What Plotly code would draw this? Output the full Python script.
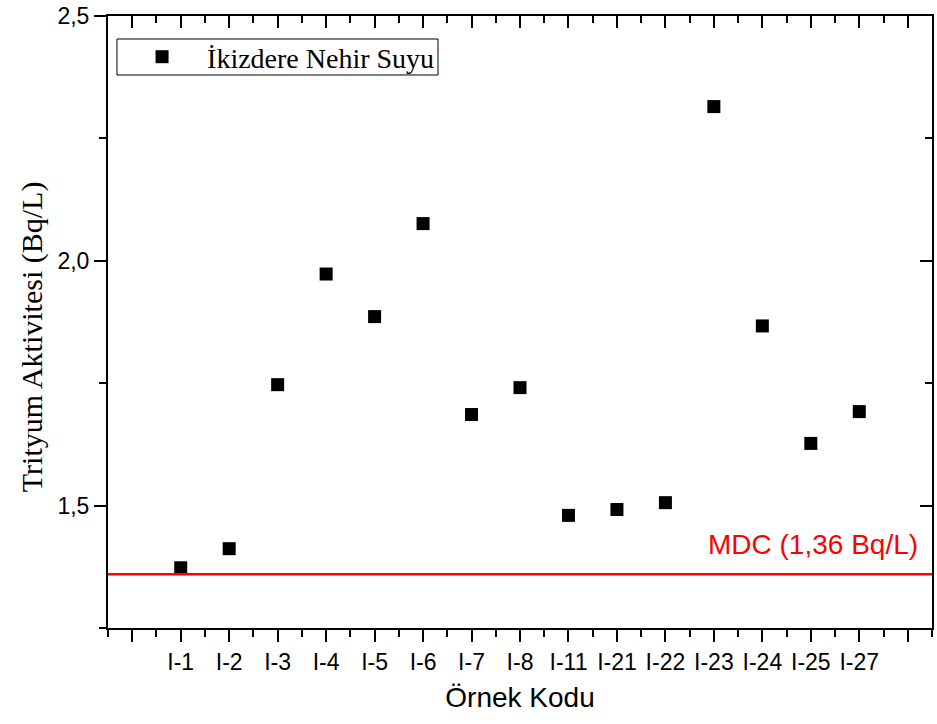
import plotly.graph_objects as go

categories = ["I-1", "I-2", "I-3", "I-4", "I-5", "I-6", "I-7", "I-8",
              "I-11", "I-21", "I-22", "I-23", "I-24", "I-25", "I-27"]
activity = [1.373, 1.412, 1.747, 1.973, 1.886, 2.076, 1.686, 1.741,
            1.480, 1.492, 1.506, 2.315, 1.867, 1.627, 1.692]
mdc = 1.36
series_name = "İkizdere Nehir Suyu"

xpos = list(range(1, len(categories) + 1))
tickvals = list(range(0, len(categories) + 2))
ticktext = [""] + categories + [""]
xrange_ = [-0.5, len(categories) + 1.5]
yrange_ = [1.25, 2.5]

SANS = "Liberation Sans, Arial"
SERIF = "Liberation Serif, Times New Roman"

fig = go.Figure()
fig.add_trace(go.Scatter(
    x=xpos, y=activity, mode="markers", name=series_name,
    marker=dict(symbol="square", size=13, color="black"),
    showlegend=True,
))
fig.add_trace(go.Scatter(x=[None], y=[None], xaxis="x2", yaxis="y2", showlegend=False))

fig.add_shape(type="line", xref="paper", x0=0, x1=1, yref="y", y0=mdc, y1=mdc,
              line=dict(color="#ff0000", width=2.5))
# legend frame
fig.add_shape(type="rect", xref="paper", yref="paper", x0=0.0109, x1=0.4005,
              y0=0.9036, y1=0.9624, line=dict(color="black", width=1),
              fillcolor="rgba(0,0,0,0)")
fig.add_annotation(xref="paper", x=0.985, yref="y", y=1.42,
                   text=f"MDC ({str(mdc).replace('.', ',')} Bq/L)",
                   showarrow=False, xanchor="right", yanchor="middle",
                   font=dict(family=SANS, size=28, color="#ff0000"))
fig.add_annotation(xref="paper", x=-0.092, yref="paper", y=0.4755,
                   text="Trityum Aktivitesi (Bq/L)", textangle=-90,
                   showarrow=False, xanchor="center", yanchor="middle",
                   font=dict(family=SERIF, size=30, color="black"))

axis_common = dict(showline=True, linecolor="black", linewidth=2, showgrid=False,
                   zeroline=False, tickcolor="black", tickwidth=2, automargin=False)

fig.update_layout(
    width=937, height=724,
    margin=dict(l=108, r=5, t=16, b=96, autoexpand=False),
    plot_bgcolor="white", paper_bgcolor="white",
    separators=",.",
    xaxis=dict(**axis_common, range=xrange_, tickmode="array", tickvals=tickvals,
               ticktext=ticktext, ticks="outside", ticklen=12,
               minor=dict(tickmode="linear", tick0=0.5, dtick=1, ticks="outside",
                          ticklen=7, tickwidth=2, tickcolor="black"),
               tickfont=dict(family=SANS, size=23, color="black"),
               title=dict(text="Örnek Kodu", standoff=14,
                          font=dict(family=SANS, size=28, color="black"))),
    yaxis=dict(**axis_common, range=yrange_, tickmode="array", tickvals=[1.5, 2.0, 2.5],
               tickformat=".1f", ticks="outside", ticklen=12,
               minor=dict(tickmode="array", tickvals=[1.25, 1.75, 2.25], ticks="outside",
                          ticklen=7, tickwidth=2, tickcolor="black"),
               tickfont=dict(family=SANS, size=23, color="black")),
    xaxis2=dict(**axis_common, overlaying="x", side="top", range=xrange_, anchor="y2",
                tickmode="array", tickvals=tickvals, ticks="inside", ticklen=12,
                showticklabels=False,
                minor=dict(tickmode="linear", tick0=0.5, dtick=1, ticks="inside",
                           ticklen=7, tickwidth=2, tickcolor="black")),
    yaxis2=dict(**axis_common, overlaying="y", side="right", range=yrange_, anchor="x2",
                tickmode="array", tickvals=[1.5, 2.0, 2.5], ticks="inside", ticklen=12,
                showticklabels=False,
                minor=dict(tickmode="array", tickvals=[1.25, 1.75, 2.25], ticks="inside",
                           ticklen=7, tickwidth=2, tickcolor="black")),
    legend=dict(x=0.011, y=0.933, xanchor="left", yanchor="middle",
                borderwidth=0, bgcolor="rgba(0,0,0,0)",
                font=dict(family=SERIF, size=28, color="black"),
                itemwidth=80),
)

fig.write_html("out.html")
